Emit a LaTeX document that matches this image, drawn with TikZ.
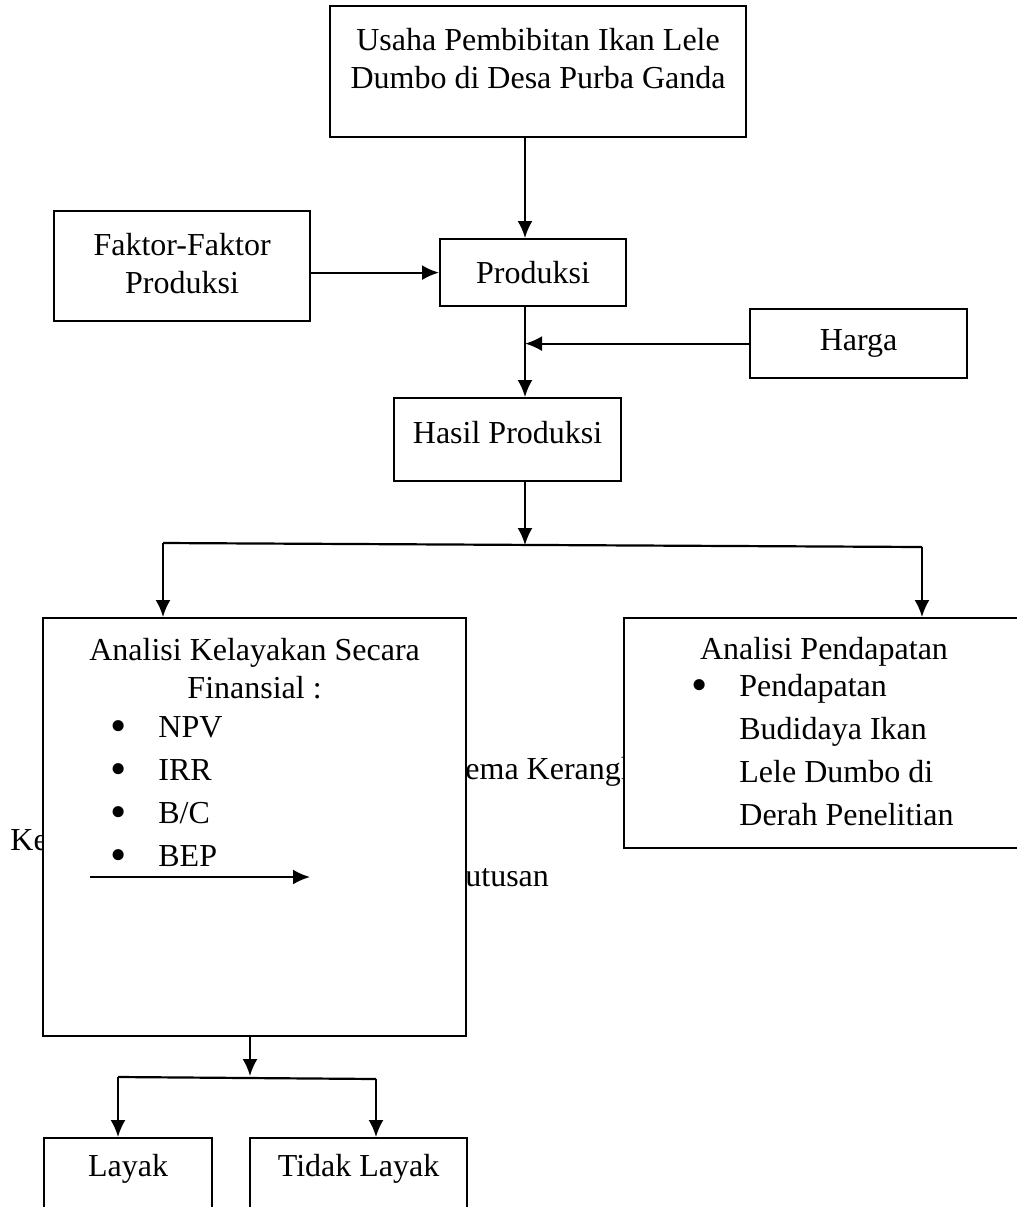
\documentclass[tikz,border=0pt]{standalone}
\usepackage{fontspec}
\setmainfont{Liberation Serif}
\usetikzlibrary{arrows.meta,positioning}

\tikzset{
  kotak/.style={draw,line width=1.1pt,fill=white,anchor=north west,inner sep=0pt},
  isi/.style={align=center,inner sep=0pt,anchor=north},
  daftar/.style={align=left,inner sep=0pt,anchor=north west},
  panah/.style={line width=1.1pt,-{Latex[length=8.5pt,width=7.5pt]}},
  garis/.style={line width=1.1pt},
  sisa/.style={inner sep=0pt,anchor=base west},
}
\newcommand{\butir}{\makebox[24pt][l]{\raisebox{-0.12em}{\scalebox{1.45}{\textbullet}}}}
\newcommand{\gantung}{\hspace*{24pt}}

\begin{document}
\begin{tikzpicture}[x=0.5pt,y=-0.5pt,font=\fontsize{16}{19}\selectfont]
\path[use as bounding box] (0,0) rectangle (1017,1207);
\clip (0,0) rectangle (1017,1207);
% sisa teks yang tertutup kotak
\node[sisa] (sisa1) at (465,779) {ema Kerangka};
\node[sisa] (sisa2) at (10,850) {Ke};
\node[sisa] (sisa3) at (465,886) {utusan};
% kotak-kotak
\node[kotak,minimum width=208pt,minimum height=65.5pt,
  label={[isi,yshift=-11.2pt]north:Usaha Pembibitan Ikan Lele\\Dumbo di Desa Purba Ganda}] (usaha) at (329,5) {};
\node[kotak,minimum width=128pt,minimum height=55pt,
  label={[isi,yshift=-11.5pt]north:Faktor-Faktor\\Produksi}] (faktor) at (53,210) {};
\node[kotak,minimum width=93pt,minimum height=33.5pt,
  label={[isi,yshift=-11.5pt]north:Produksi}] (produksi) at (439,238) {};
\node[kotak,minimum width=108.5pt,minimum height=34.5pt,
  label={[isi,yshift=-10.7pt]north:Harga}] (harga) at (749,308) {};
\node[kotak,minimum width=113.5pt,minimum height=41.5pt,
  label={[isi,yshift=-12pt]north:Hasil Produksi}] (hasil) at (393,397) {};
\node[kotak,minimum width=211.5pt,minimum height=209pt,
  label={[isi,yshift=-10.5pt]north:Analisi Kelayakan Secara\\Finansial :},
  label={[daftar,xshift=34pt,yshift=-49.5pt]north west:{\butir NPV\\[2.5pt]\butir IRR\\[2.5pt]\butir B/C\\[2.5pt]\butir BEP}}] (finansial) at (42,617) {};
\node[kotak,minimum width=210pt,minimum height=115pt,
  label={[isi,xshift=100.5pt,yshift=-10pt]north west:Analisi Pendapatan},
  label={[daftar,xshift=34pt,yshift=-28.5pt]north west:{\butir Pendapatan\\[2.5pt]\gantung Budidaya Ikan\\[2.5pt]\gantung Lele Dumbo di\\[2.5pt]\gantung Derah Penelitian}}] (pendapatan) at (623,617) {};
\node[kotak,minimum width=84pt,minimum height=45pt,
  label={[isi,yshift=-8.3pt]north:Layak}] (layak) at (43,1137) {};
\node[kotak,minimum width=108.5pt,minimum height=45pt,
  label={[isi,yshift=-8.3pt]north:Tidak Layak}] (tidak) at (249,1137) {};
% titik bantu
\coordinate (sumbu) at (525,0);
\coordinate (cabang) at (525,545);
\coordinate (kiri) at (163,543);
\coordinate (kanan) at (922,547);
\coordinate (bawah) at (250,1076);
\coordinate (bkiri) at (118,1077);
\coordinate (bkanan) at (376,1079);
\coordinate (sisaA) at (90,877);
\coordinate (sisaB) at (310,877);
% panah
\draw[panah] (usaha.south -| sumbu) -- (produksi.north -| sumbu);
\draw[panah] (faktor.east |- produksi.west) -- (produksi.west);
\draw[panah] (harga.west) -- (harga.west -| sumbu);
\draw[panah] (produksi.south -| sumbu) -- (hasil.north -| sumbu);
\draw[panah] (hasil.south -| sumbu) -- (cabang);
\draw[garis] (kiri) -- (kanan);
\draw[panah] (kiri) -- (finansial.north -| kiri);
\draw[panah] (kanan) -- (pendapatan.north -| kanan);
\draw[panah] (finansial.south -| bawah) -- (bawah);
\draw[garis] (bkiri) -- (bkanan);
\draw[panah] (bkiri) -- (layak.north -| bkiri);
\draw[panah] (bkanan) -- (tidak.north -| bkanan);
\draw[panah] (sisaA) -- (sisaB);
\end{tikzpicture}
\end{document}
